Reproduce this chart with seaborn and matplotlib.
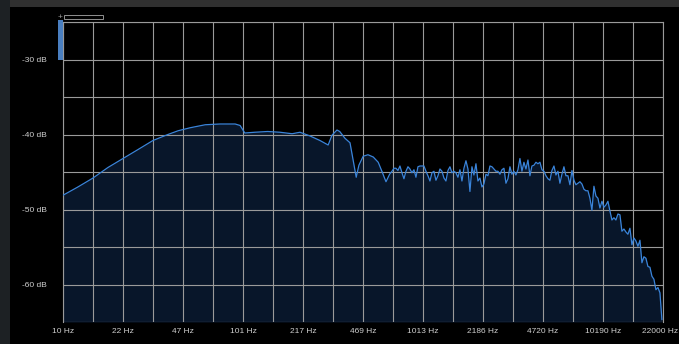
import numpy as np
import pandas as pd
import matplotlib
matplotlib.use("Agg")
import matplotlib.pyplot as plt
import matplotlib.transforms as mtransforms
import seaborn as sns
from matplotlib.patches import Rectangle
from matplotlib.ticker import NullFormatter

sns.set_theme(style="dark")
plt.rcParams['font.family'] = ['Liberation Sans', 'DejaVu Sans']

# ---- data ----
low_freq_hz = [10, 12.1, 14.7, 17.8, 21.6, 26.2, 31.7, 38.4, 43.8, 51.1,
               62, 75, 91, 97, 103, 117, 138, 162, 189, 209,
               238, 270, 300, 315, 336, 348, 372, 397, 413, 430,
               445, 470, 500, 535, 570, 600, 630, 660]
low_db = [-48.1, -47.0, -45.8, -44.4, -43.2, -42.0, -40.8, -40.0, -39.5, -39.1,
          -38.7, -38.6, -38.6, -38.8, -39.8, -39.7, -39.6, -39.7, -39.9, -39.7,
          -40.2, -40.8, -41.4, -40.1, -39.4, -39.6, -40.5, -41.1, -43.4, -45.7,
          -44.1, -42.9, -42.7, -43.0, -43.7, -45.0, -46.3, -45.3]

hi_db = [-44.9, -44.5, -44.5, -44.8, -44.2, -45.1, -45.9, -44.9, -44.3, -44.6,
         -45.1, -44.7, -45.7, -44.3, -44.2, -44.2, -44.2, -44.9, -45.5, -46.2,
         -45.1, -44.9, -46.1, -45.5, -44.6, -44.9, -45.8, -46.2, -44.8, -44.3,
         -45.1, -44.9, -45.1, -45.7, -44.7, -46.2, -44.5, -43.5, -44.6, -47.6,
         -44.3, -45.4, -43.9, -46.2, -45.8, -47.0, -46.6, -45.3, -45.5, -44.2,
         -44.3, -44.6, -44.9, -44.9, -45.3, -44.7, -44.5, -46.5, -45.9, -44.3,
         -45.3, -44.9, -45.4, -44.7, -43.2, -44.9, -43.7, -44.6, -43.4, -45.5,
         -44.2, -44.1, -43.7, -43.9, -43.7, -44.7, -44.9, -45.5, -45.9, -46.1,
         -44.8, -44.2, -45.4, -44.9, -46.5, -45.3, -44.3, -45.5, -45.5, -46.7,
         -44.8, -46.1, -46.7, -46.5, -46.3, -46.6, -47.3, -47.5, -47.5, -48.5,
         -50.1, -46.9, -48.2, -48.5, -49.8, -48.9, -49.7, -49.4, -48.9, -50.2,
         -51.4, -51.1, -51.4, -50.6, -50.7, -52.9, -52.6, -53.0, -53.3, -52.5,
         -54.7, -53.8, -54.2, -54.9, -54.1, -57.1, -56.3, -56.5, -57.6, -57.7,
         -58.9, -59.3, -60.7, -60.4, -61.1, -64.7]
# log-spaced analyser bins for the upper band
hi_freq_hz = np.geomspace(680, 21700, len(hi_db))

x_tick_labels = ["10 Hz", "22 Hz", "47 Hz", "101 Hz", "217 Hz", "469 Hz",
                 "1013 Hz", "2186 Hz", "4720 Hz", "10190 Hz", "22000 Hz"]
y_ticks = [-30, -40, -50, -60]
y_tick_labels = ["-30 dB", "-40 dB", "-50 dB", "-60 dB"]
f_min, f_max = 10, 22000
db_min, db_max = -65, -25

df = pd.DataFrame({
    "freq": np.concatenate([np.array(low_freq_hz, float), hi_freq_hz]),
    "db": low_db + hi_db,
})

# ---- figure ----
W, H = 679, 344
fig = plt.figure(figsize=(W / 100, H / 100), dpi=100, facecolor="black")
ax = fig.add_axes([63 / W, 22 / H, 600 / W, 300 / H])
ax.set_facecolor("black")
ax.set_xscale("log")

ax.fill_between(df["freq"], df["db"], db_min, color="#08162a", lw=0, zorder=1)
sns.lineplot(data=df, x="freq", y="db", ax=ax, color="#3a84da", lw=0.9,
             estimator=None, sort=False, zorder=3)

ax.set_xlim(f_min, f_max)
ax.set_ylim(db_min, db_max)

ax.set_xticks(np.geomspace(f_min, f_max, len(x_tick_labels)))
ax.set_xticklabels(x_tick_labels)
ax.set_xticks(np.geomspace(f_min, f_max, 2 * len(x_tick_labels) - 1), minor=True)
ax.xaxis.set_minor_formatter(NullFormatter())
ax.set_yticks(y_ticks)
ax.set_yticklabels(y_tick_labels)
ax.set_yticks(np.arange(db_min, db_max + 1, 5), minor=True)

grid_c = "#9a9a9a"
ax.grid(which="both", axis="both", color=grid_c, lw=0.8, zorder=2)
ax.set_axisbelow(False)
ax.tick_params(which="both", length=0)
ax.tick_params(axis="x", pad=4.5, labelsize=6, labelcolor="#cfcfcf")
ax.tick_params(axis="y", pad=11.5, labelsize=6, labelcolor="#cfcfcf")
ax.set_xlabel("")
ax.set_ylabel("")
for s in ["left", "top", "right"]:
    ax.spines[s].set_visible(True)
    ax.spines[s].set_color(grid_c)
    ax.spines[s].set_linewidth(0.8)
ax.spines["bottom"].set_visible(False)

# keep the last frequency label inside the image
last = ax.get_xticklabels()[-1]
last.set_transform(last.get_transform() +
                   mtransforms.ScaledTranslation(-3 / 100, 0, fig.dpi_scale_trans))

# ---- window decorations ----
fig.add_artist(Rectangle((0, (H - 7) / H), 1, 7 / H, transform=fig.transFigure,
                         color="#303030", lw=0, zorder=0))
fig.add_artist(Rectangle((0, 0), 10 / W, 1, transform=fig.transFigure,
                         color="#1d2124", lw=0, zorder=0))
fig.add_artist(Rectangle((58 / W, (H - 60) / H), 4.5 / W, 40 / H,
                         transform=fig.transFigure, color="#4a7fc0", lw=0, zorder=5))
fig.add_artist(Rectangle((63.5 / W, (H - 19.3) / H), 39 / W, 4.3 / H,
                         transform=fig.transFigure, fill=False,
                         edgecolor="#909090", lw=0.7, zorder=5))
fig.text(60 / W, (H - 17.5) / H, "+", color="#a0a0a0", fontsize=6,
         ha="center", va="center")

fig.savefig("out.png", dpi=100, facecolor="black")
